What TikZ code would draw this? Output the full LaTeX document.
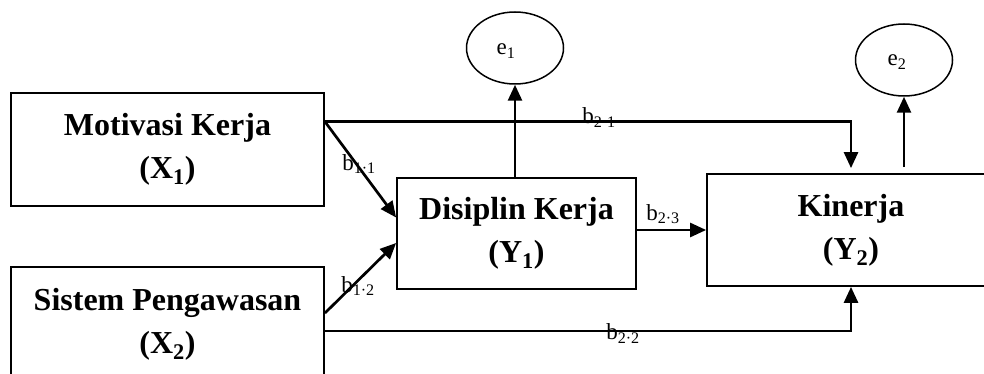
\documentclass[tikz,border=0pt]{standalone}
\usepackage{fontspec}
\setmainfont{Liberation Serif}
\usetikzlibrary{arrows.meta,shapes.geometric}
\begin{document}
\begin{tikzpicture}[x=1pt,y=-1pt,
  box/.style={draw, line width=1.8pt, inner sep=0pt, align=center,
    font=\fontsize{32}{43}\selectfont\bfseries},
  err/.style={draw, ellipse, line width=1.5pt, inner sep=0pt,
    minimum width=97pt, minimum height=72pt},
  pathar/.style={line width=2.7pt, -{Triangle[length=16pt,width=14pt]}},
  coef/.style={font=\fontsize{23}{23}\selectfont, inner sep=0pt}
]
\useasboundingbox (0,0) rectangle (984,374);
\clip (0,0) rectangle (984,374);
% boxes
\node[box, minimum width=313pt, minimum height=113pt] (X1) at (167.5,149.5) {Motivasi Kerja\\(X\textsubscript{1})};
\node[box, minimum width=313pt, minimum height=114pt] (X2) at (167.5,324) {Sistem Pengawasan\\(X\textsubscript{2})};
\node[box, minimum width=239pt, minimum height=111pt] (Y1) at (516.5,233.5) {Disiplin Kerja\\(Y\textsubscript{1})};
\node[box, minimum width=288pt, minimum height=112pt] (Y2) at (851,230) {Kinerja\\(Y\textsubscript{2})};
% error terms
\node[err] (e1) at (515,48) {};
\node[err] (e2) at (904,60) {};
\node[coef] (le1) at (506,51) {e\textsubscript{1}};
\node[coef] (le2) at (897,62) {e\textsubscript{2}};
% connector end points
\coordinate (s1) at ([yshift=-29.5pt]X1.north east);
\coordinate (s2) at ([yshift=-47pt]X2.north east);
\coordinate (s3) at ([yshift=-65pt]X2.north east);
\coordinate (t1) at ([yshift=16pt]Y1.west);
\coordinate (t2) at ([yshift=-9.5pt]Y1.west);
% connectors
\draw[pathar] (s1) -- (t1);
\draw[pathar] (s2) -- (t2);
\draw[pathar, shorten >=5pt] (s1) -| (Y2.north);
\draw[pathar] (s3) -| (Y2.south);
\draw[pathar] (Y1.east |- Y2.west) -- (Y2.west);
\draw[pathar] (Y1.north -| e1.south) -- (e1.south);
\draw[pathar, shorten <=6pt] (Y2.north -| e2.south) -- (e2.south);
% coefficients
\node[coef] (b11) at (359,164) {b\textsubscript{1·1}};
\node[coef] (b12) at (358,286) {b\textsubscript{1·2}};
\node[coef] (b21) at (599,117.5) {b\textsubscript{2·1}};
\node[coef] (b22) at (623,333.5) {b\textsubscript{2·2}};
\node[coef] (b23) at (663,214) {b\textsubscript{2·3}};
\end{tikzpicture}
\end{document}
